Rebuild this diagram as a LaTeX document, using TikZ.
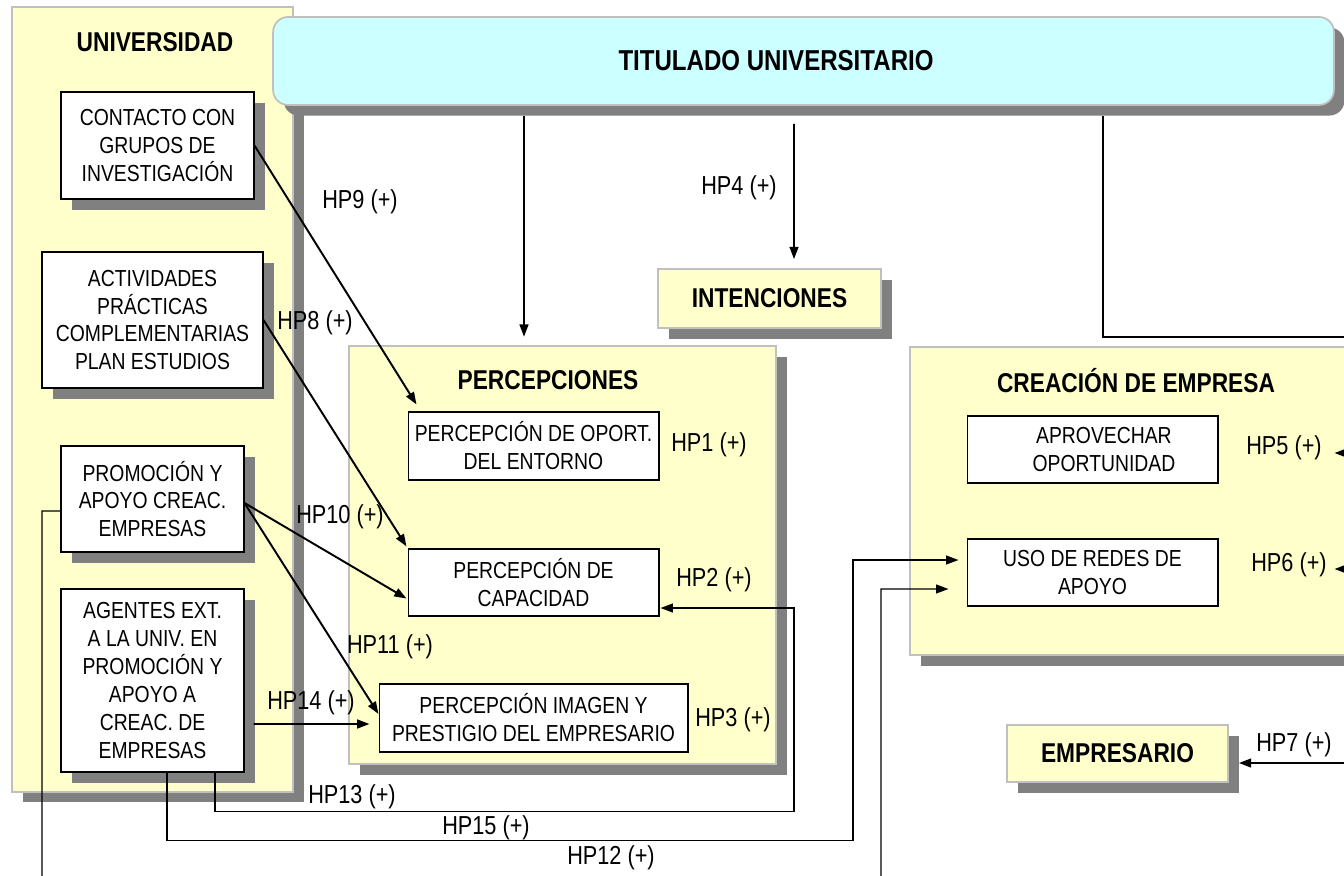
\documentclass[tikz,border=0pt]{standalone}
\usepackage{fontspec}
\setmainfont{Liberation Sans}[FakeStretch=0.835]
\usetikzlibrary{arrows.meta, calc, shadows}

\definecolor{amarillo}{RGB}{255,255,204}
\definecolor{celeste}{RGB}{204,255,255}
\definecolor{bordegris}{RGB}{192,192,192}
\definecolor{sombragris}{RGB}{128,128,128}

\newcommand{\fcaja}{\fontsize{13.2}{15.9}\selectfont}
\newcommand{\ftitulo}{\fontsize{15.5}{18}\selectfont\bfseries}
\newcommand{\fetiq}{\fontsize{14.8}{17}\selectfont}

\begin{document}
\begin{tikzpicture}[x=0.02cm, y=-0.02cm,
  sombra/.style={general shadow={fill=sombragris, shadow xshift=6pt, shadow yshift=-6pt}},
  panel/.style={draw=bordegris, line width=1.5pt, fill=amarillo, sombra, inner sep=0pt},
  caja/.style={draw, line width=0.6pt, fill=white, align=center, font=\fcaja, inner sep=0pt},
  cajasombra/.style={caja, sombra},
  bloque/.style={draw=bordegris, line width=1pt, fill=amarillo, sombra, font=\ftitulo, inner sep=0pt},
  titulo/.style={font=\ftitulo},
  etiq/.style={font=\fetiq},
  flecha/.style={-{Triangle[length=7pt,width=5pt]}, line width=1.1pt},
  codo/.style={-{Triangle[length=7pt,width=5pt]}, line width=0.8pt}]

\clip (0,0) rectangle (1344,875);

% === Panels ===
\node[panel, minimum width=5.62cm, minimum height=15.7cm] (univ) at (152.5,399.5) {};
\node[panel, minimum width=8.54cm, minimum height=8.36cm] (percep) at (562.5,555) {};
\node[panel, minimum width=9.8cm, minimum height=6.16cm] (creacion) at (1155,501) {};
\node[draw=bordegris, line width=1pt, fill=celeste, rounded corners=0.3cm, sombra,
      minimum width=21.22cm, minimum height=1.76cm] (titulado) at (803.5,61) {};

\node[titulo, font=\fontsize{16.4}{19}\selectfont\bfseries] (ttitulado) at (776,61) {TITULADO UNIVERSITARIO};
\node[titulo] (tuniv) at (155,42) {UNIVERSIDAD};
\node[titulo] (tpercep) at (548,380) {PERCEPCIONES};
\node[titulo] (tcreacion) at (1136,381) {CREACIÓN DE EMPRESA};

% === Universidad ===
\node[cajasombra, minimum width=3.86cm, minimum height=2.14cm] (contacto) at (157.5,145.5)
     {CONTACTO CON\\GRUPOS DE\\INVESTIGACIÓN};
\node[cajasombra, minimum width=4.42cm, minimum height=2.72cm] (actividades) at (152.5,320)
     {ACTIVIDADES\\PRÁCTICAS\\COMPLEMENTARIAS\\PLAN ESTUDIOS};
\node[cajasombra, minimum width=3.66cm, minimum height=2.12cm] (promocion) at (152.5,499)
     {PROMOCIÓN Y\\APOYO CREAC.\\EMPRESAS};
\node[cajasombra, minimum width=3.66cm, minimum height=3.66cm] (agentes) at (152.5,680.5)
     {AGENTES EXT.\\A LA UNIV. EN\\PROMOCIÓN Y\\APOYO A\\CREAC. DE\\EMPRESAS};

% === Percepciones ===
\node[caja, minimum width=5.02cm, minimum height=1.36cm] (oport) at (533.5,446)
     {PERCEPCIÓN DE OPORT.\\DEL ENTORNO};
\node[caja, minimum width=5.02cm, minimum height=1.34cm] (capacidad) at (533.5,582.5)
     {PERCEPCIÓN DE\\CAPACIDAD};
\node[caja, minimum width=6.18cm, minimum height=1.36cm] (imagen) at (533.5,718)
     {PERCEPCIÓN IMAGEN Y\\PRESTIGIO DEL EMPRESARIO};

% === Creacion de empresa ===
\node[caja, minimum width=5.02cm, minimum height=1.34cm] (aprovechar) at (1092.5,449.5)
     {\hspace*{13pt}APROVECHAR\\\hspace*{13pt}OPORTUNIDAD};
\node[caja, minimum width=5.02cm, minimum height=1.34cm] (redes) at (1092.5,572.5)
     {USO DE REDES DE\\APOYO};

% === Intenciones / Empresario ===
\node[bloque, minimum width=4.46cm, minimum height=1.18cm] (intenciones) at (769.5,298.5) {INTENCIONES};
\node[bloque, minimum width=4.42cm, minimum height=1.14cm] (empresario) at (1117.5,753.5) {EMPRESARIO};

% off-page ends
\coordinate (dtitulado) at (1420,337);
\coordinate (dhp5) at (1420,453);
\coordinate (dhp6) at (1420,569);
\coordinate (dhp7) at (1420,763);
\coordinate (bhp12) at (42,900);

% === Connectors ===
\draw[flecha] ($(titulado.south)+(-279.5,10)$) -- ($(percep.north)+(-38.5,-8)$);
\draw[flecha] ($(titulado.south)+(-9.5,18)$) -- ($(intenciones.north)+(24.5,-9)$);
\draw[line width=0.8pt] ($(titulado.south)+(299.5,10)$) |- (dtitulado);

\draw[flecha] (contacto.east) -- ($(oport.north west)+(9,-7)$);
\draw[flecha] (actividades.east) -- ($(capacidad.north west)+(-1,-2)$);
\draw[flecha] ($(promocion.east)+(0,4)$) -- ($(capacidad.south west)+(-1,-18)$);
\draw[flecha] ($(promocion.east)+(0,4)$) -- ($(imagen.west)+(0,-4)$);
\draw[flecha] ($(agentes.east)+(9,43.5)$) -- ($(imagen.west)+(-9,6)$);

\draw[codo] ($(agentes.south)+(62.5,0)$) -- ++(0,39) -- ++(579,0) |- ($(capacidad.east)+(1,25.5)$);
\draw[codo] ($(agentes.south)+(14.5,0)$) -- ++(0,68) -- ++(686,0) |- ($(redes.west)+(-8,-12.5)$);
\draw[codo] ($(promocion.west)+(0,12)$) -| (bhp12) -| (881,589) -- ($(redes.west)+(-18,16.5)$);

\draw[flecha] (dhp5) -- ($(aprovechar.east)+(116,3.5)$);
\draw[flecha] (dhp6) -- ($(redes.east)+(116,-3.5)$);
\draw[flecha] (dhp7) -- ($(empresario.east)+(10,9.5)$);

% === Labels ===
\node[etiq] (lhp1) at (709,445) {HP1 (+)};
\node[etiq] (lhp2) at (714,580) {HP2 (+)};
\node[etiq] (lhp3) at (733,720) {HP3 (+)};
\node[etiq] (lhp4) at (739,188) {HP4 (+)};
\node[etiq] (lhp5) at (1284,448) {HP5 (+)};
\node[etiq] (lhp6) at (1289,565) {HP6 (+)};
\node[etiq] (lhp7) at (1294,745) {HP7 (+)};
\node[etiq] (lhp8) at (315,323) {HP8 (+)};
\node[etiq] (lhp9) at (360,202) {HP9 (+)};
\node[etiq] (lhp10) at (340,517) {HP10 (+)};
\node[etiq] (lhp11) at (390,647) {HP11 (+)};
\node[etiq] (lhp12) at (611,858) {HP12 (+)};
\node[etiq] (lhp13) at (352,797) {HP13 (+)};
\node[etiq] (lhp14) at (311,703) {HP14 (+)};
\node[etiq] (lhp15) at (486,828) {HP15 (+)};

\end{tikzpicture}
\end{document}
